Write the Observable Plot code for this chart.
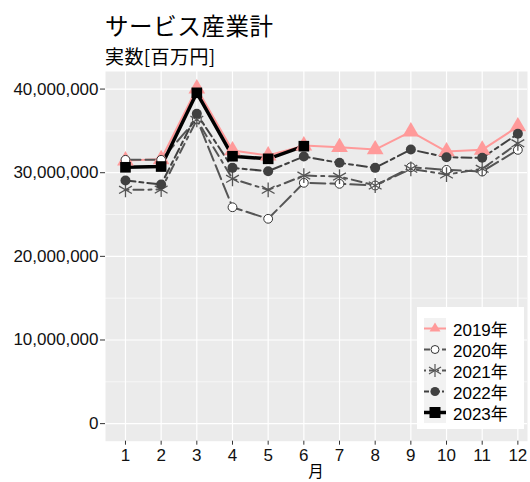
<!DOCTYPE html>
<html><head><meta charset="utf-8">
<script src="https://cdn.jsdelivr.net/npm/d3@7"></script>
<script src="https://cdn.jsdelivr.net/npm/@observablehq/plot@0.6"></script>
<style>
body{margin:0;background:#fff;}
#wrap{position:relative;width:530px;height:482px;font-family:"Liberation Sans","Noto Sans CJK JP",sans-serif;}
#title{position:absolute;left:105px;top:12px;font-family:"Noto Sans CJK JP";font-size:23.5px;line-height:26px;letter-spacing:0.6px;color:#000;}
#subtitle{position:absolute;left:105px;top:45px;font-family:"Noto Sans CJK JP";font-size:19px;line-height:22px;letter-spacing:0.4px;color:#000;}
#chart{position:absolute;left:0;top:60px;}
#xlabel{position:absolute;left:0;width:632px;top:461px;text-align:center;font-family:"Noto Sans CJK JP";font-size:15.5px;line-height:18px;color:#000;}
#legend{position:absolute;left:417px;top:307px;width:107px;height:122px;background:#fff;}
#keybg{position:absolute;left:7px;top:11px;width:22px;height:105px;background:#f2f2f2;}
.row{position:absolute;left:7px;height:21px;display:flex;align-items:center;}
.row span{margin-left:7px;font-size:17px;color:#000;}
</style></head>
<body><div id="wrap">
<div id="title">サービス産業計</div>
<div id="subtitle">実数[百万円]</div>
<div id="chart"></div>
<div id="xlabel">月</div>
<div id="legend"><div id="keybg"></div></div>
</div>
<script>
const months = [1,2,3,4,5,6,7,8,9,10,11,12];
const years = ["2019年","2020年","2021年","2022年","2023年"];
const v2019 = [31450000,31600000,40060000,32650000,32050000,33240000,33040000,32770000,34920000,32530000,32730000,35520000];
const v2020 = [31540000,31540000,36440000,25870000,24490000,28790000,28670000,28470000,30650000,30340000,30140000,32730000];
const v2021 = [27950000,27990000,36320000,29270000,27950000,29660000,29540000,28470000,30460000,29780000,30460000,33520000];
const v2022 = [29070000,28590000,37040000,30580000,30180000,31930000,31180000,30580000,32770000,31850000,31780000,34650000];
const v2023 = [30650000,30740000,39550000,31970000,31660000,33170000];
const yTicks = [0,10000000,20000000,30000000,40000000];
const yMinor = [5000000,15000000,25000000,35000000];

const values = [v2019,v2020,v2021,v2022,v2023];
const styles = [
  {stroke:"#ff9a9a", width:2, dash:null, symbol:"triangle", fill:"#ff9a9a", dstroke:"none", r:6.2},
  {stroke:"#555555", width:2, dash:"15,5", symbol:"circle", fill:"#ffffff", dstroke:"#333", r:4.4},
  {stroke:"#555555", width:2, dash:"3,5,10,5", symbol:"asterisk", fill:"none", dstroke:"#555", r:7},
  {stroke:"#404040", width:2, dash:"10,4,4,4", symbol:"circle", fill:"#404040", dstroke:"none", r:5},
  {stroke:"#000000", width:3.5, dash:null, symbol:"square", fill:"#000", dstroke:"none", r:6}
];
const series = values.map((vals,i)=>vals.map((v,j)=>({month:months[j], value:v, year:years[i]})));

const lineMarks = series.map((d,i)=>Plot.line(d,{x:"month",y:"value",stroke:styles[i].stroke,strokeWidth:styles[i].width,strokeDasharray:styles[i].dash}));
const dotMarks = series.map((d,i)=>Plot.dot(d,{x:"month",y:"value",symbol:()=>styles[i].symbol,fill:styles[i].fill,stroke:styles[i].dstroke,strokeWidth:styles[i].symbol==="asterisk"?1.3:1,r:styles[i].r}));

const chart = Plot.plot({
  width:530, height:422,
  marginTop:11, marginLeft:105, marginRight:3, marginBottom:41.3,
  style:{fontFamily:"'Liberation Sans','Noto Sans CJK JP',sans-serif", fontSize:"17px", color:"#111", background:"transparent"},
  x:{domain:[0.44,12.27]},
  y:{domain:[-2100000,42100000]},
  symbol:{type:"identity"},
  marks:[
    Plot.frame({fill:"#ebebeb", stroke:null}),
    Plot.ruleY(yMinor,{stroke:"#fff",strokeWidth:0.6}),
    Plot.ruleY(yTicks,{stroke:"#fff",strokeWidth:1.2}),
    Plot.ruleX(months,{stroke:"#fff",strokeWidth:1.2}),
    Plot.axisY({ticks:yTicks, tickFormat:d3.format(","), tickSize:5, tickPadding:2, label:null, stroke:"#333", fontSize:17}),
    Plot.axisX({ticks:months, tickFormat:d=>String(d), tickSize:4, tickPadding:4, label:null, stroke:"#333", fontSize:17}),
    ...lineMarks,
    ...dotMarks
  ]
});
document.getElementById("chart").appendChild(chart);

// legend
const leg = document.getElementById("legend");
years.forEach((yr,i)=>{
  const s = styles[i];
  const row = document.createElement("div");
  row.className="row";
  row.style.top = (11 + i*21)+"px";
  const sym = s.symbol;
  let shape = "";
  if(sym==="triangle") shape = `<path d="M11,4.5 L16.5,13.5 L5.5,13.5 Z" fill="${s.fill}"/>`;
  else if(sym==="circle") shape = `<circle cx="11" cy="10.5" r="${s.r-0.4}" fill="${s.fill}" stroke="${s.dstroke}"/>`;
  else if(sym==="square") shape = `<rect x="5.5" y="5" width="11" height="11" fill="#000"/>`;
  else shape = `<g stroke="#555" stroke-width="1.2"><line x1="11" y1="4" x2="11" y2="17"/><line x1="5" y1="7" x2="17" y2="14"/><line x1="5" y1="14" x2="17" y2="7"/></g>`;
  row.innerHTML = `<svg width="22" height="21"><line x1="0" y1="10.5" x2="22" y2="10.5" stroke="${s.stroke}" stroke-width="${s.width}" ${s.dash?`stroke-dasharray="${sym==="asterisk"?"2,3,5,3":s.dash==="15,5"?"6,3":"5,2,2,2"}"`:""}/>${shape}</svg><span>${yr}</span>`;
  leg.appendChild(row);
});
</script>
</body></html>
